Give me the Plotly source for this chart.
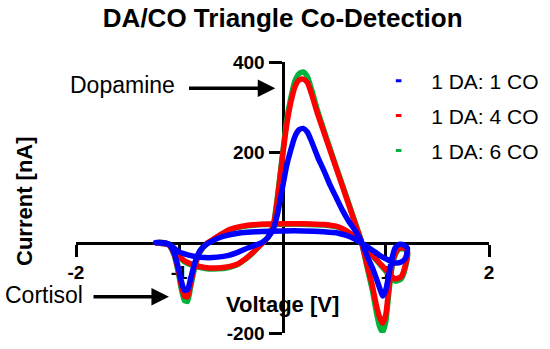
import plotly.graph_objects as go

# ---------------- data ----------------
voltage = [
    -1.23, -1.15, -1.10, -1.06, -1.02, -0.95, -0.86, -0.75, -0.63, -0.52, -0.44, -0.36, -0.28,
    -0.20, -0.14, -0.09, -0.05, 0.00, 0.04, 0.08, 0.12, 0.16, 0.20, 0.24, 0.28, 0.34, 0.40,
    0.46, 0.52, 0.58, 0.64, 0.70, 0.76, 0.82, 0.87, 0.91, 0.94, 0.97, 1.00, 1.03, 1.06, 1.09,
    1.13, 1.18, 1.21,
    1.19, 1.15, 1.09, 1.02, 0.94, 0.86, 0.78, 0.70, 0.62, 0.54, 0.40, 0.20, 0.00, -0.20, -0.40,
    -0.50, -0.60, -0.68, -0.74, -0.80, -0.85, -0.89, -0.92, -0.95, -0.98, -1.01, -1.05, -1.10, -1.23,
]

current_1co = [
    0, 0, -3, -10, -18, -25, -30, -33, -32, -28, -22, -14, -7,
    0, 12, 30, 62, 122, 170, 205, 235, 250, 253, 245, 225, 190, 160,
    128, 100, 72, 48, 28, 5, -30, -55, -80, -100, -118, -105, -70, -35, -12,
    -4, -6, -12,
    -35, -43, -45, -38, -28, -15, -3, 8, 16, 21, 24, 26, 26, 25, 22,
    18, 12, 4, -4, -18, -45, -80, -104, -105, -85, -55, -22, -4, 0,
]

current_4co = [
    0, 0, -4, -12, -25, -40, -49, -55, -56, -53, -48, -36, -20,
    -2, 12, 35, 95, 190, 260, 310, 345, 360, 362, 355, 330, 285, 245,
    205, 165, 125, 85, 45, 5, -50, -95, -140, -165, -178, -160, -100, -50, -25,
    -12, -12, -20,
    -50, -75, -80, -65, -45, -25, -5, 12, 26, 35, 40, 42, 42, 41, 36,
    30, 18, 6, -3, -20, -50, -90, -120, -118, -95, -60, -25, -5, 0,
]

current_6co = [
    0, 0, -4, -13, -26, -42, -51, -57, -58, -55, -49, -37, -21,
    -2, 12, 38, 100, 195, 270, 320, 358, 374, 378, 368, 340, 292, 250,
    208, 168, 128, 88, 47, 6, -55, -105, -155, -185, -198, -175, -110, -55, -28,
    -14, -14, -22,
    -55, -80, -85, -68, -47, -26, -6, 11, 25, 34, 39, 41, 41, 40, 35,
    29, 17, 5, -4, -22, -55, -98, -130, -128, -102, -65, -27, -5, 0,
]

series_names = ["1 DA: 1 CO", "1 DA: 4 CO", "1 DA: 6 CO"]
series_colors = ["#0000ff", "#ff0000", "#00b33c"]
series_values = [current_1co, current_4co, current_6co]

x_ticks = [-2, -1, 1, 2]
y_ticks = [-200, 200, 400]

FONT = "Liberation Sans, Arial, sans-serif"

fig = go.Figure()

# draw order: green bottom, red, blue on top
for name, color, vals in reversed(list(zip(series_names, series_colors, series_values))):
    fig.add_trace(go.Scatter(
        x=voltage, y=vals, mode="lines", name=name, showlegend=False,
        line=dict(color=color, width=5.5, shape="spline", smoothing=0.6),
        hoverinfo="skip",
    ))

# legend entries (short dashes)
for i, (name, color) in enumerate(zip(series_names, series_colors)):
    fig.add_trace(go.Scatter(
        x=[None], y=[None], mode="markers", name=name, legendgroup=f"g{i}",
        marker=dict(symbol="line-ew", size=4, color=color,
                    line=dict(color=color, width=3)),
    ))

fig.update_layout(
    width=550, height=349,
    margin=dict(l=76, r=61, t=62, b=16, autoexpand=False),
    paper_bgcolor="white", plot_bgcolor="white",
    font=dict(family=FONT, color="black"),
    title=dict(text="DA/CO Triangle Co-Detection", x=0.514, xanchor="center",
               y=1 - 18 / 349, yanchor="middle", yref="container",
               font=dict(size=26, weight="bold", family=FONT, color="black")),
    showlegend=True,
    legend=dict(x=0.7025, y=1.005, xanchor="left", yanchor="top",
                font=dict(size=21, family=FONT, color="black"),
                itemwidth=55, bgcolor="rgba(0,0,0,0)", tracegroupgap=4.5),
    xaxis=dict(range=[-2, 2], anchor="free", position=1 / 3,
               showline=True, linecolor="black", linewidth=3,
               ticks="outside", ticklen=12, tickwidth=3, tickcolor="black",
               tickvals=x_ticks, ticktext=[str(v) for v in x_ticks],
               tickfont=dict(size=19, weight="bold", family=FONT, color="black"),
               showgrid=False, zeroline=False, layer="below traces", fixedrange=True,
               automargin=False),
    yaxis=dict(range=[-200, 400], anchor="free", position=0.5,
               showline=True, linecolor="black", linewidth=3,
               ticks="outside", ticklen=13, tickwidth=3, tickcolor="black",
               tickvals=y_ticks, ticktext=[str(v) for v in y_ticks],
               tickfont=dict(size=19, weight="bold", family=FONT, color="black"),
               showgrid=False, zeroline=False, layer="below traces", fixedrange=True,
               automargin=False),
)

# axis titles
fig.add_annotation(text="Voltage [V]", xref="paper", yref="paper", x=0.499, y=0.105,
                   xanchor="center", yanchor="middle", showarrow=False,
                   font=dict(size=22, weight="bold", family=FONT, color="black"))
fig.add_annotation(text="Current [nA]", xref="paper", yref="paper", x=-0.126, y=0.487,
                   xanchor="center", yanchor="middle", textangle=-90, showarrow=False,
                   font=dict(size=22, weight="bold", family=FONT, color="black"))

# labels with arrows
fig.add_annotation(text="Dopamine", xref="x", yref="y", x=-1.553, y=349,
                   xanchor="center", yanchor="middle", showarrow=False,
                   font=dict(size=23, family=FONT, color="black"))
fig.add_annotation(text="", xref="x", yref="y", x=-0.07, y=342, axref="x", ayref="y",
                   ax=-0.92, ay=342, showarrow=True, arrowhead=2, arrowsize=1,
                   arrowwidth=3.5, arrowcolor="black", standoff=0)
fig.add_annotation(text="Cortisol", xref="paper", yref="paper", x=-0.077, y=0.140,
                   xanchor="center", yanchor="middle", showarrow=False,
                   font=dict(size=23, family=FONT, color="black"))
fig.add_annotation(text="", xref="x", yref="y", x=-1.10, y=-120, axref="x", ayref="y",
                   ax=-1.845, ay=-120, showarrow=True, arrowhead=2, arrowsize=1,
                   arrowwidth=3.5, arrowcolor="black", standoff=0)

# remove the browser's default 8px page margin so the figure fills the window
fig.write_html("out.html", config={"displayModeBar": False, "staticPlot": True},
               post_script="document.body.style.margin='0px';")
